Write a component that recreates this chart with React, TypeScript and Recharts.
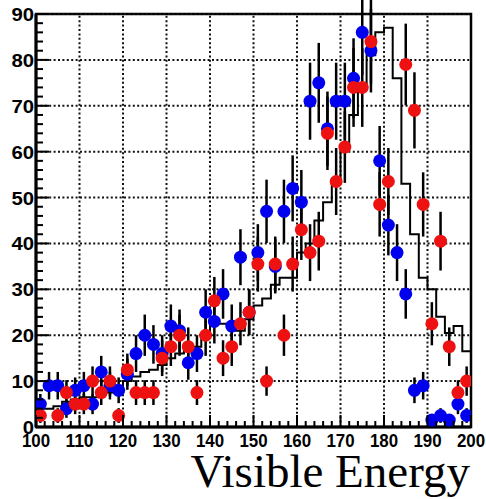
import React from "react";
import {
  ComposedChart,
  Scatter,
  Line,
  XAxis,
  YAxis,
  ErrorBar,
  ReferenceLine,
  ReferenceArea,
  Label
} from "recharts";

// bin centres, 2 units wide
const binCenters = [
  101, 103, 105, 107, 109, 111, 113, 115, 117, 119,
  121, 123, 125, 127, 129, 131, 133, 135, 137, 139,
  141, 143, 145, 147, 149, 151, 153, 155, 157, 159,
  161, 163, 165, 167, 169, 171, 173, 175, 177, 179,
  181, 183, 185, 187, 189, 191, 193, 195, 197, 199
];

const blueCounts = [
  5, 9, 9, 4, 8, 9, 5, 12, 9, 8,
  11.5, 16, 20, 18, 16, 22, 21, 14, 16, 25,
  23, 29, 22, 37, 25, 38, 47, 35, 47, 52,
  49, 71, 75, 65, 71, 71, 76, 86, 82, 58,
  44, 38, 29, 8, 9, 1.5, 2.5, 1.5, 5, 2.5
];

const blueErrors = [
  2.2, 3, 3, 2, 2.8, 3, 2.2, 3.5, 3, 2.8,
  3.4, 4, 4.5, 4.2, 4, 4.7, 4.6, 3.7, 4, 5,
  4.8, 5.4, 4.7, 6.1, 5, 6.2, 6.9, 5.9, 6.9, 7.2,
  7, 8.4, 8.7, 8.1, 8.4, 8.4, 8.7, 9.3, 9.1, 7.6,
  6.6, 6.2, 5.4, 2.8, 3, 1.2, 1.6, 1.2, 2.2, 1.6
];

const redCounts: (number | null)[] = [
  2.5, null, 2.5, 7.5, 5, 5, 10, 7.5, 10, 2.5,
  12.5, 7.5, 7.5, 7.5, 15, 17.5, 20, 17.5, 7.5, 20,
  27.5, 15, 17.5, 22.5, 25, 35.5, 10, 35.5, 20, 35.5,
  43, 38, 40.5, 64, 53.5, 61, 74, 74, 84, 48.5,
  53.5, null, 79, 69, 48.5, 22.5, 40.5, 17.5, 7.5, 10
];

const redErrors = [
  1.6, 0, 1.6, 2.7, 2.2, 2.2, 3.2, 2.7, 3.2, 1.6,
  3.5, 2.7, 2.7, 2.7, 3.9, 4.2, 4.5, 4.2, 2.7, 4.5,
  5.2, 3.9, 4.2, 4.7, 5, 6, 3.2, 6, 4.5, 6,
  6.6, 6.2, 6.4, 8, 7.3, 7.8, 8.6, 8.6, 9.2, 7,
  7.3, 0, 8.9, 8.3, 7, 4.7, 6.4, 4.2, 2.7, 3.2
];

// simulated spectrum, drawn as a step histogram
const mcCounts = [
  4, 4, 4.5, 5.5, 6, 6.5, 6.5, 7, 7.5, 8,
  10, 11, 12, 12.5, 13.5, 15, 16, 16.5, 17.5, 20,
  22.5, 22.5, 21.5, 21, 23.5, 26.5, 28, 31, 32.5, 32.5,
  38, 40, 45, 49, 54, 60.5, 68, 74, 81, 86,
  87, 76, 53, 42, 32.5, 30, 24, 20.5, 22, 16.5
];

const xMajor = [100, 110, 120, 130, 140, 150, 160, 170, 180, 190, 200];
const yMajor = [0, 10, 20, 30, 40, 50, 60, 70, 80, 90];

const xTicks: number[] = [];
for (let v = 100; v <= 200; v += 2) xTicks.push(v);
const yTicks: number[] = [];
for (let v = 0; v <= 90; v += 2) yTicks.push(v);

const blueData = binCenters.map((x, i) => ({ x, y: blueCounts[i], err: blueErrors[i] }));
const redData = binCenters
  .map((x, i) => ({ x, y: redCounts[i], err: redErrors[i] }))
  .filter((d) => d.y !== null);
const mcData = [
  ...binCenters.map((c, i) => ({ x: c - 1, y: mcCounts[i] })),
  { x: 200, y: mcCounts[mcCounts.length - 1] }
];

const labelFont = "'Liberation Sans', Arial, Helvetica, sans-serif";

function XTick(props: any) {
  const { x, y, payload } = props;
  const major = payload.value % 10 === 0;
  const s = String(payload.value);
  return (
    <g>
      <line x1={x} x2={x} y1={y} y2={y - (major ? 12 : 6)} stroke="#000" strokeWidth={2} />
      {major && (
        <text
          x={x}
          y={y + 20}
          textAnchor="middle"
          fontFamily={labelFont}
          fontWeight="bold"
          fontSize={18}
          textLength={s.length * 9.4}
          lengthAdjust="spacingAndGlyphs"
          fill="#000"
        >
          {s}
        </text>
      )}
    </g>
  );
}

function YTick(props: any) {
  const { x, y, payload } = props;
  const major = payload.value % 10 === 0;
  const s = String(payload.value);
  return (
    <g>
      <line x1={x} x2={x + (major ? 13 : 7)} y1={y} y2={y} stroke="#000" strokeWidth={2} />
      {major && (
        <text
          x={x - 2}
          y={y + 7}
          textAnchor="end"
          fontFamily={labelFont}
          fontWeight="bold"
          fontSize={19}
          textLength={s.length * 11.3}
          lengthAdjust="spacingAndGlyphs"
          fill="#000"
        >
          {s}
        </text>
      )}
    </g>
  );
}

function Title(props: any) {
  const vb = props.viewBox;
  return (
    <text
      x={vb.x + vb.width - 1}
      y={vb.y + 60}
      textAnchor="end"
      fontFamily="'Liberation Serif', 'Times New Roman', serif"
      fontSize={47}
      fill="#000"
    >
      Visible Energy
    </text>
  );
}

const dot = (fill: string) => (p: any) => <circle cx={p.cx} cy={p.cy} r={6.5} fill={fill} />;

function App() {
  return (
    <div style={{ position: "absolute", left: 0, top: 0, width: 486, height: 499, background: "#fff" }}>
      <ComposedChart width={486} height={499} margin={{ top: 14, right: 15, bottom: 0, left: 0 }}>
        <XAxis
          type="number"
          dataKey="x"
          domain={[100, 200]}
          ticks={xTicks}
          interval={0}
          height={72}
          tickSize={0}
          tickMargin={0}
          tickLine={false}
          tick={<XTick />}
          axisLine={{ stroke: "#000", strokeWidth: 3 }}
          allowDataOverflow
        >
          <Label content={<Title />} />
        </XAxis>
        <YAxis
          type="number"
          dataKey="y"
          domain={[0, 90]}
          ticks={yTicks}
          interval={0}
          width={36}
          tickSize={0}
          tickMargin={0}
          tickLine={false}
          tick={<YTick />}
          axisLine={{ stroke: "#000", strokeWidth: 3 }}
          allowDataOverflow
        />

        {xMajor.slice(1, -1).map((v) => (
          <ReferenceLine key={"gx" + v} x={v} stroke="#111" strokeWidth={2} strokeDasharray="2 2.4" />
        ))}
        {yMajor.slice(1).map((v) => (
          <ReferenceLine key={"gy" + v} y={v} stroke="#111" strokeWidth={2} strokeDasharray="2 2.4" />
        ))}

        <Line
          data={mcData}
          dataKey="y"
          type="stepAfter"
          stroke="#000"
          strokeWidth={2}
          dot={false}
          activeDot={false}
          isAnimationActive={false}
        />

        <Scatter data={blueData} fill="#0000ee" shape={dot("#0000ee")} isAnimationActive={false}>
          <ErrorBar dataKey="err" direction="y" width={0} stroke="#000" strokeWidth={2.5} />
        </Scatter>
        <Scatter data={redData} fill="#ee1111" shape={dot("#ee1111")} isAnimationActive={false}>
          <ErrorBar dataKey="err" direction="y" width={0} stroke="#000" strokeWidth={2.5} />
        </Scatter>

        <ReferenceArea x1={100} x2={200} y1={0} y2={90} fill="none" stroke="#000" strokeWidth={2.5} />
      </ComposedChart>
    </div>
  );
}

export default App;
